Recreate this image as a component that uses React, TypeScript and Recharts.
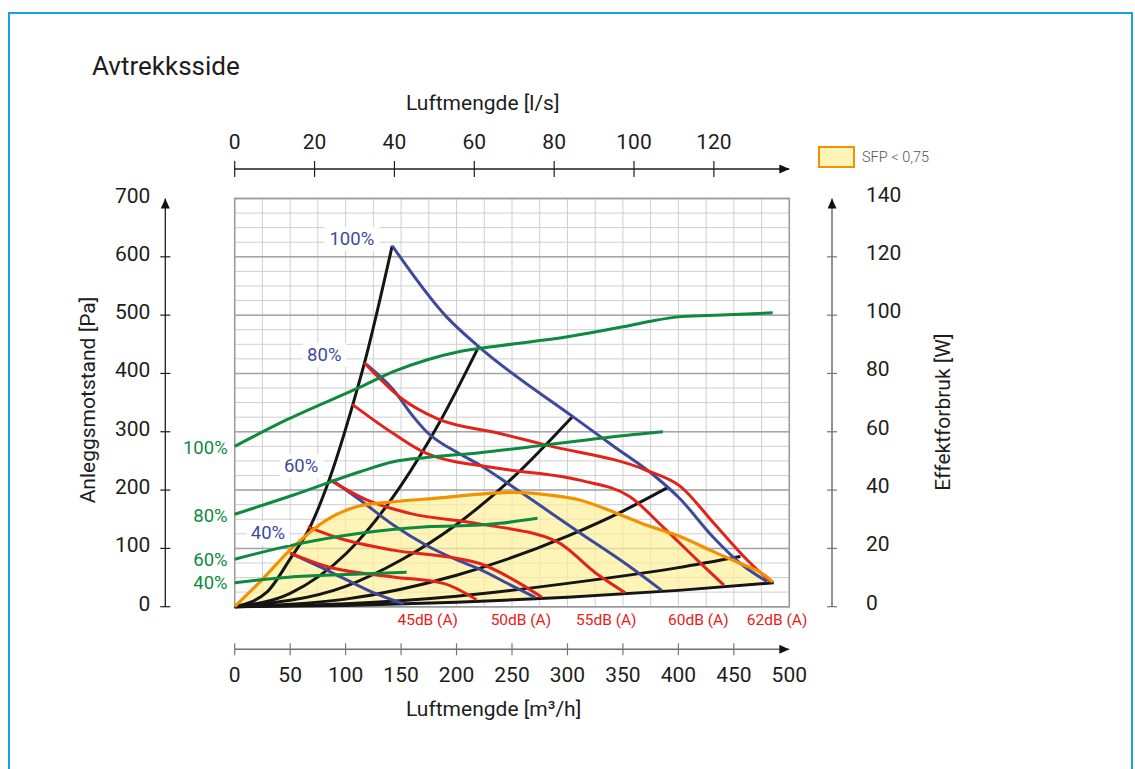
import React from 'react';
import { ComposedChart, XAxis, YAxis, CartesianGrid, Line, Area, ReferenceArea } from 'recharts';

type Pt = [number, number];

const W = 1135;
const H = 769;
const FONT = 'Roboto, "Noto Sans", Arial, sans-serif';

// axes
const M3H_TICKS = [0, 50, 100, 150, 200, 250, 300, 350, 400, 450, 500];
const LS_TICKS = [0, 20, 40, 60, 80, 100, 120];
const LS_MAX = 500 / 3.6;
const PA_TICKS = [0, 100, 200, 300, 400, 500, 600, 700];
const W_TICKS = [0, 20, 40, 60, 80, 100, 120, 140];
const GRID_X = [0, 25, 50, 75, 100, 125, 150, 175, 200, 225, 250, 275, 300, 325, 350, 375, 400, 425, 450, 475, 500];
const GRID_Y = [0, 25, 50, 75, 100, 125, 150, 175, 200, 225, 250, 275, 300, 325, 350, 375, 400, 425, 450, 475, 500, 525, 550, 575, 600, 625, 650, 675, 700];
const DB_AT = [174, 258, 335, 418, 489];
const DB_LABELS = ['45dB (A)', '50dB (A)', '55dB (A)', '60dB (A)', '62dB (A)'];

// fan curves, Pa vs m3/h
const fan100: Pt[] = [[142, 619], [191, 497], [220, 446], [307, 323], [341, 276], [380, 222], [401, 186], [431, 120], [458, 71], [480, 43]];
const fan80: Pt[] = [[117, 418], [143, 372], [161, 326], [173, 300], [203, 262], [221, 243], [248, 209], [311, 127], [356, 69], [385, 28]];
const fan60: Pt[] = [[88, 217], [113, 183], [143, 140], [173, 105], [203, 78], [221, 64], [248, 38], [271, 16]];
const fan40: Pt[] = [[50, 92], [75, 70], [101, 46], [125, 24], [152, 5]];

// sound level curves, Pa vs m3/h
const db62: Pt[] = [[117, 418], [152, 355], [182, 323], [239, 297], [281, 277], [371, 234], [402, 206], [432, 143], [462, 80], [483, 43]];
const db60: Pt[] = [[106, 347], [143, 297], [173, 263], [239, 237], [311, 217], [356, 189], [386, 137], [417, 80], [441, 37]];
const db55: Pt[] = [[86, 217], [119, 183], [158, 160], [221, 142], [290, 112], [326, 57], [352, 24]];
const db50: Pt[] = [[66, 137], [95, 117], [143, 97], [203, 82], [221, 74], [257, 40], [277, 16]];
const db45: Pt[] = [[50, 92], [83, 69], [143, 51], [188, 40], [218, 12]];

// system curves, Pa vs m3/h
const sys1: Pt[] = [[0, 0], [29, 25], [50, 82], [68, 137], [86, 222], [107, 350], [117, 418], [142, 619]];
const sys2: Pt[] = [[0, 0], [50, 23], [101, 92], [150, 208], [185, 317], [220, 446]];
const sys3: Pt[] = [[0, 0], [100, 35], [150, 80], [200, 141], [250, 220], [304, 325]];
const sys4: Pt[] = [[0, 0], [100, 13], [200, 54], [300, 121], [350, 164], [391, 205]];
const sys5: Pt[] = [[0, 0], [100, 5], [200, 18], [300, 40], [400, 67], [456, 86]];
const sys6: Pt[] = [[0, 0], [100, 2], [200, 7.5], [300, 16], [400, 28], [486, 41]];

// SFP < 0,75 region: upper edge (orange) and lower edge (lowest system curve)
const SFP_X = [0, 23, 53, 83, 113, 143, 188, 221, 251, 281, 311, 341, 371, 402, 432, 456, 480, 485];
const SFP_HI = [0, 43, 103, 149, 173, 180, 187, 193, 196, 192, 183, 163, 140, 120, 94, 74, 51, 42];
const SFP_LO = [0, 0.1, 0.5, 1.2, 2.2, 3.6, 6.2, 8.5, 11, 14, 17, 20, 24, 28, 33, 36, 40, 41];

// power curves, W vs m3/h
const pw100: Pt[] = [[0, 55], [48, 64.3], [113, 75.3], [143, 80.6], [173, 84.6], [203, 87.5], [239, 89.5], [300, 92.6], [326, 94.3], [350, 96], [375, 97.9], [400, 99.4], [426, 99.9], [450, 100.2], [485, 100.8]];
const pw80: Pt[] = [[0, 31.7], [53, 38.3], [113, 46.3], [143, 49.7], [173, 51.2], [221, 52.8], [281, 55.5], [341, 58.3], [386, 60]];
const pw60: Pt[] = [[0, 16.3], [53, 21.2], [113, 25.2], [173, 27.4], [221, 28], [239, 28.6], [273, 30.3]];
const pw40: Pt[] = [[0, 8.2], [53, 10.3], [113, 11.2], [155, 11.8]];

// invisible anchors so the secondary axes get a domain
const SPAN_LS: Pt[] = [[0, 0], [LS_MAX, 0]];
const SPAN_DB: Pt[] = [[0, 0], [500, 0]];

const BLUE = '#3d4a9c';
const RED = '#e2231a';
const GREEN = '#0e8a3e';
const BLACK = '#151515';
const ORANGE = '#f39200';
const YELLOW = '#fff09a';
const INK = '#1d1d1b';

const rows = (pts: Pt[]) => pts.map(([x, y]) => ({ x, y }));
const sfpRows = SFP_X.map((x, i) => ({ x, y: SFP_HI[i], range: [SFP_LO[i], SFP_HI[i]] }));

const startLabel = (text: string, color: string, dx: number, dy: number, boxed: boolean) => (p: any) => {
  if (p.index !== 0) return <g key={`n${p.index}`} />;
  const x = p.cx + dx;
  const y = p.cy + dy;
  const w = text.length * 11.2;
  return (
    <g key="lbl">
      {boxed && <rect x={x - w - 5} y={y - 12} width={w + 10} height={24} fill="#fff" />}
      <text x={x} y={y} textAnchor="end" dominantBaseline="central" fontFamily={FONT} fontSize={18.5} fill={color}>
        {text}
      </text>
    </g>
  );
};

const FANS = [
  { pts: fan100, label: '100%', dx: -18, dy: -7 },
  { pts: fan80, label: '80%', dx: -23, dy: -8 },
  { pts: fan60, label: '60%', dx: -14, dy: -14 },
  { pts: fan40, label: '40%', dx: -5, dy: -20 },
];
const POWERS = [
  { pts: pw100, label: '100%', dy: 2 },
  { pts: pw80, label: '80%', dy: 1.5 },
  { pts: pw60, label: '60%', dy: 0.5 },
  { pts: pw40, label: '40%', dy: 0.5 },
];

const tickFont = { fontFamily: FONT, fontSize: 21, fill: INK };

const PaTick = ({ x, y, payload }: any) => (
  <g>
    {payload.value !== 700 && <line x1={x - 5} x2={x + 5} y1={y} y2={y} stroke={INK} strokeWidth={1.2} />}
    <text x={x - 15} y={y - 3} textAnchor="end" dominantBaseline="central" {...tickFont}>{payload.value}</text>
  </g>
);
const WTick = ({ x, y, payload }: any) => (
  <g>
    {payload.value !== 140 && <line x1={x - 5} x2={x + 5} y1={y} y2={y} stroke="#777" strokeWidth={1.2} />}
    <text x={x + 34} y={y - 4} textAnchor="start" dominantBaseline="central" {...tickFont}>{payload.value}</text>
  </g>
);
const LsTick = ({ x, y, payload }: any) => (
  <g>
    <line x1={x} x2={x} y1={y - 8} y2={y + 8} stroke={INK} strokeWidth={1.2} />
    <text x={x} y={y - 27} textAnchor="middle" dominantBaseline="central" {...tickFont}>{payload.value}</text>
  </g>
);
const M3hTick = ({ x, y, payload }: any) => (
  <g>
    {payload.value !== 500 && <line x1={x} x2={x} y1={y - 6} y2={y + 6} stroke="#777" strokeWidth={1.2} />}
    <text x={x} y={y + 26} textAnchor="middle" dominantBaseline="central" {...tickFont}>{payload.value}</text>
  </g>
);
const DbTick = ({ x, y, index }: any) => (
  <text x={x} y={y + 13.5} textAnchor="middle" dominantBaseline="central" fontFamily={FONT} fontSize={15.5} fill={RED}>
    {DB_LABELS[index]}
  </text>
);

export default function App() {
  return (
    <div style={{ position: 'fixed', left: 0, top: 0, width: W, height: H, overflow: 'hidden', background: '#fff', fontFamily: FONT }}>
      <svg width={0} height={0} style={{ position: 'absolute' }}>
        <defs>
          <marker id="axisArrow" viewBox="0 0 10 9" refX={10} refY={4.5} markerWidth={10} markerHeight={9}
            markerUnits="userSpaceOnUse" orient="auto-start-reverse">
            <path d="M0,0 L10,4.5 L0,9 Z" fill="#111" />
          </marker>
        </defs>
      </svg>
      <div style={{ position: 'absolute', left: 8, top: 12, width: 1125, height: 800, boxSizing: 'border-box', border: '2px solid #18a0e3' }} />

      <div style={{ position: 'absolute', left: 0, top: 0 }}>
        <ComposedChart width={W} height={H} margin={{ top: 0, right: 0, bottom: 0, left: 0 }}>
          {/* bottom: dB labels next to the plot, then m3/h axis */}
          <XAxis xAxisId="db" dataKey="x" orientation="bottom" type="number" domain={[0, 500]} allowDataOverflow height={42.6}
            ticks={DB_AT} interval={0} axisLine={false} tickLine={false} tickSize={0} tickMargin={0} tick={<DbTick />} />
          <XAxis xAxisId="m3h" dataKey="x" orientation="bottom" type="number" domain={[0, 500]} height={119.7}
            ticks={M3H_TICKS} interval={0} tickLine={false} tickSize={0} tickMargin={0} tick={<M3hTick />}
            axisLine={{ stroke: '#6f6f6f', strokeWidth: 1.5, markerEnd: 'url(#axisArrow)' }} />
          {/* top: empty gap, then l/s axis */}
          <XAxis xAxisId="gapTop" orientation="top" type="number" domain={[0, 500]} allowDataOverflow height={29.5}
            axisLine={false} tickLine={false} tick={false} />
          <XAxis xAxisId="ls" dataKey="x" orientation="top" type="number" domain={[0, LS_MAX]} allowDataOverflow height={169}
            ticks={LS_TICKS} interval={0} tickLine={false} tickSize={0} tickMargin={0} tick={<LsTick />}
            axisLine={{ stroke: INK, strokeWidth: 1.3, markerEnd: 'url(#axisArrow)' }} />
          {/* left: empty gap, then Pa axis */}
          <YAxis yAxisId="gapL" orientation="left" type="number" domain={[0, 700]} allowDataOverflow width={69.4}
            axisLine={false} tickLine={false} tick={false} />
          <YAxis yAxisId="pa" orientation="left" type="number" domain={[0, 700]} width={165.3}
            ticks={PA_TICKS} interval={0} tickLine={false} tickSize={0} tickMargin={0} tick={<PaTick />}
            axisLine={{ stroke: INK, strokeWidth: 1.3, markerStart: 'url(#axisArrow)' }} />
          {/* right: empty gap, then W axis */}
          <YAxis yAxisId="gapR" orientation="right" type="number" domain={[0, 700]} allowDataOverflow width={42.7}
            axisLine={false} tickLine={false} tick={false} />
          <YAxis yAxisId="w" orientation="right" type="number" domain={[0, 140]} width={303}
            ticks={W_TICKS} interval={0} tickLine={false} tickSize={0} tickMargin={0} tick={<WTick />}
            axisLine={{ stroke: '#6f6f6f', strokeWidth: 1.5, markerStart: 'url(#axisArrow)' }} />

          <Line xAxisId="ls" yAxisId="pa" data={rows(SPAN_LS)} dataKey="y" stroke="none" dot={false} isAnimationActive={false} />
          <Line xAxisId="db" yAxisId="pa" data={rows(SPAN_DB)} dataKey="y" stroke="none" dot={false} isAnimationActive={false} />

          <CartesianGrid xAxisId="m3h" yAxisId="pa" verticalValues={GRID_X} horizontalValues={GRID_Y}
            stroke="#cfcfcf" strokeWidth={1} />
          <CartesianGrid xAxisId="m3h" yAxisId="pa" vertical={false} horizontalValues={PA_TICKS}
            stroke="#a5a5a5" strokeWidth={1.5} />

          <Area xAxisId="m3h" yAxisId="pa" data={sfpRows} dataKey="range" type="monotone"
            stroke="none" fill={YELLOW} fillOpacity={0.7} isAnimationActive={false} />
          <ReferenceArea xAxisId="m3h" yAxisId="pa" x1={0} x2={500} y1={0} y2={700}
            fill="none" stroke="#9a9a9a" strokeWidth={1.5} />

          {[sys1, sys2, sys3, sys4, sys5, sys6].map((s, i) => (
            <Line key={`s${i}`} xAxisId="m3h" yAxisId="pa" data={rows(s)} dataKey="y" type="monotone"
              stroke={BLACK} strokeWidth={3} dot={false} isAnimationActive={false} />
          ))}
          {FANS.map((f) => (
            <Line key={`f${f.label}`} xAxisId="m3h" yAxisId="pa" data={rows(f.pts)} dataKey="y" type="monotone"
              stroke={BLUE} strokeWidth={3} dot={startLabel(f.label, BLUE, f.dx, f.dy, true)} isAnimationActive={false} />
          ))}
          {[db62, db60, db55, db50, db45].map((s, i) => (
            <Line key={`d${i}`} xAxisId="m3h" yAxisId="pa" data={rows(s)} dataKey="y" type="monotone"
              stroke={RED} strokeWidth={3} dot={false} isAnimationActive={false} />
          ))}
          <Line xAxisId="m3h" yAxisId="pa" data={sfpRows} dataKey="y" type="monotone"
            stroke={ORANGE} strokeWidth={3.2} dot={false} isAnimationActive={false} />
          {POWERS.map((p) => (
            <Line key={`p${p.label}`} xAxisId="m3h" yAxisId="w" data={rows(p.pts)} dataKey="y" type="monotone"
              stroke={GREEN} strokeWidth={3} dot={startLabel(p.label, GREEN, -7, p.dy, false)} isAnimationActive={false} />
          ))}
        </ComposedChart>
      </div>

      <svg width={W} height={H} style={{ position: 'absolute', left: 0, top: 0, pointerEvents: 'none' }}>
        <text x={92} y={75} fontFamily={FONT} fontSize={26} fill={INK}>Avtrekksside</text>
        <text x={406} y={109.5} fontFamily={FONT} fontSize={21} fill={INK}>Luftmengde [l/s]</text>
        <text x={406} y={716} fontFamily={FONT} fontSize={21} fill={INK}>Luftmengde [m³/h]</text>
        <text x={88} y={400} transform="rotate(-90 88 400)" textAnchor="middle" dominantBaseline="central"
          fontFamily={FONT} fontSize={21} fill={INK}>Anleggsmotstand [Pa]</text>
        <text x={943} y={412} transform="rotate(-90 943 412)" textAnchor="middle" dominantBaseline="central"
          fontFamily={FONT} fontSize={21} fill={INK}>Effektforbruk [W]</text>
        <rect x={819} y={147} width={35} height={20} fill="#fff4b8" stroke={ORANGE} strokeWidth={2} />
        <text x={862} y={157} dominantBaseline="central" fontFamily={FONT} fontSize={14.5} fontWeight={300} fill="#555">SFP &lt; 0,75</text>
      </svg>
    </div>
  );
}
